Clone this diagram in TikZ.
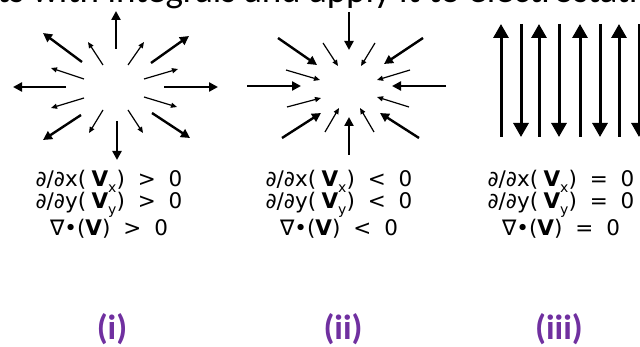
\documentclass[tikz,border=0pt]{standalone}
\usepackage{fontspec}
\setmainfont{DejaVu Sans}
\newfontfamily\calibri{Carlito}
\usetikzlibrary{arrows.meta}
\definecolor{labelpurple}{HTML}{7030A0}
\newcommand\lowidx[1]{\raisebox{-0.5ex}{\fontsize{14}{14}\selectfont #1}}
\newcommand\relgap{\hspace{0.6em}}
\tikzset{
  bigarrow/.style={line width=2.4pt,-{Triangle[length=9pt,width=9pt]}},
  smallarrow/.style={line width=1.2pt,-{Triangle[length=6pt,width=5pt]}},
  flowarrow/.style={line width=3pt,-{Triangle[length=14pt,width=15pt]}},
  relation/.style={align=center,font=\fontsize{21.5}{22.5}\selectfont,inner sep=0pt},
  caselabel/.style={font=\calibri\bfseries\fontsize{35}{35}\selectfont,text=labelpurple,inner sep=0pt}
}
\begin{document}
\begin{tikzpicture}[x=1pt,y=-1pt]
\useasboundingbox (0,0) rectangle (640,347);
\clip (0,0) rectangle (640,347);
\fill[white] (0,0) rectangle (640,347);

% heading line running off the top edge
\node[anchor=base west,inner sep=0pt,font=\calibri\fontsize{37}{37}\selectfont] (heading) at (-3,3)
  {ts with integrals and apply it to electrostatics};

% (i) source: vectors point outward
\foreach \ax/\ay/\bx/\by in {116/49/116/11, 117/121/117/160, 66/87/13/87, 164/87/218/87,
    82/62/43/33, 151/63/189/36, 81/115/43/140, 152/113/190/138}
  \draw[bigarrow] (\ax,\ay) -- (\bx,\by);
\foreach \ax/\ay/\bx/\by in {103/65/88/42, 128/65/144/42, 84/79/51/68, 144/79/178/69,
    84/98/51/108, 144/97/177/107, 103/110/89/133, 128/110/143/133}
  \draw[smallarrow] (\ax,\ay) -- (\bx,\by);

% (ii) sink: vectors point inward
\foreach \ax/\ay/\bx/\by in {349/12/349/50, 349/155/349/117, 247/86/301/86, 446/86/392/86,
    278/38/317/65, 423/38/384/64, 282/138/321/113, 419/138/380/113}
  \draw[bigarrow] (\ax,\ay) -- (\bx,\by);
\foreach \ax/\ay/\bx/\by in {323/43/338/66, 375/43/361/66, 286/70/320/80, 410/70/377/80,
    287/107/321/98, 409/107/377/97, 325/132/339/108, 374/132/360/108}
  \draw[smallarrow] (\ax,\ay) -- (\bx,\by);

% (iii) alternating parallel flow
\foreach \x in {501,539,580,619}
  \draw[flowarrow] (\x,137) -- (\x,24);
\foreach \x in {521,559,600,639}
  \draw[flowarrow] (\x,24) -- (\x,137);

% divergence relations
\node[relation] (rel1) at (109,204)
  {∂/∂x(\hspace{0.25em}{\bfseries V}\lowidx{x})\relgap>\relgap0\\
   ∂/∂y(\hspace{0.25em}{\bfseries V}\lowidx{y})\relgap>\relgap0\\
   ∇•({\bfseries V})\relgap>\relgap0};
\node[relation] (rel2) at (339,204)
  {∂/∂x(\hspace{0.25em}{\bfseries V}\lowidx{x})\relgap<\relgap0\\
   ∂/∂y(\hspace{0.25em}{\bfseries V}\lowidx{y})\relgap<\relgap0\\
   ∇•({\bfseries V})\relgap<\relgap0};
\node[relation] (rel3) at (561,204)
  {∂/∂x(\hspace{0.25em}{\bfseries V}\lowidx{x})\relgap=\relgap0\\
   ∂/∂y(\hspace{0.25em}{\bfseries V}\lowidx{y})\relgap=\relgap0\\
   ∇•({\bfseries V})\relgap=\relgap0};

% case labels
\node[caselabel] (lab1) at (112,329) {(i)};
\node[caselabel] (lab2) at (343,329) {(ii)};
\node[caselabel] (lab3) at (559,329) {(iii)};
\end{tikzpicture}
\end{document}
